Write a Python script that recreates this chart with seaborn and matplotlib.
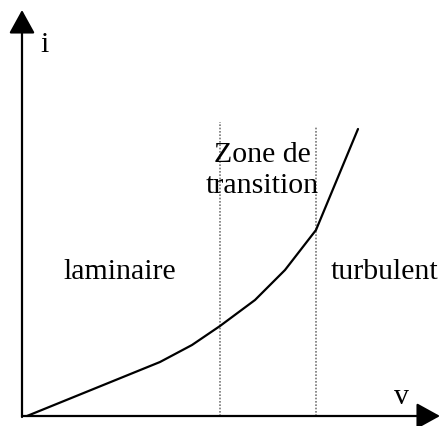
import matplotlib.pyplot as plt
import seaborn as sns
import pandas as pd

# courbe i = f(v)
v = [5, 138, 170, 198, 233, 263, 294, 336]
i = [0, 54, 71, 90, 116, 146, 186, 287]
# limites des zones (lignes pointillées)
v_zones = [198, 294]
zone_tops = [294, 289]

sns.set_style('white')
plt.rcParams['font.family'] = ['Liberation Serif', 'DejaVu Serif']
plt.rcParams['text.color'] = 'black'

df = pd.DataFrame({'v': v, 'i': i})

fig = plt.figure(figsize=(4.42, 4.26), dpi=100)
ax = fig.add_axes([0, 0, 1, 1])
ax.set_xlim(-22, 420)
ax.set_ylim(-10, 416)
ax.axis('off')

# axes avec flèches
arrow = dict(arrowstyle='-|>,head_length=1.45,head_width=0.8', mutation_scale=10,
             color='black', lw=1.6, shrinkA=0, shrinkB=0)
ax.annotate('', xy=(418, 0), xytext=(0, 0), arrowprops=arrow)
ax.annotate('', xy=(0, 406), xytext=(0, -1), arrowprops=arrow)

# lignes pointillées
for xv, top in zip(v_zones, zone_tops):
    ax.plot([xv, xv], [0, top], color='#777777', lw=1.2, linestyle=(0, (1, 1)))

sns.lineplot(data=df, x='v', y='i', sort=False, color='black', lw=1.6, ax=ax)

fs = 21.5
ax.text(22, 371, 'i', fontsize=fs, ha='center', va='center', color='black')
ax.text(379, 19, 'v', fontsize=fs, ha='center', va='center', color='black')
ax.text(240, 261, 'Zone de', fontsize=fs, ha='center', va='center', color='black')
ax.text(240, 230, 'transition', fontsize=fs, ha='center', va='center', color='black')
ax.text(98, 144, 'laminaire', fontsize=fs, ha='center', va='center', color='black')
ax.text(363, 144, 'turbulent', fontsize=fs, ha='center', va='center', color='black')

plt.savefig('out.png', dpi=100)
